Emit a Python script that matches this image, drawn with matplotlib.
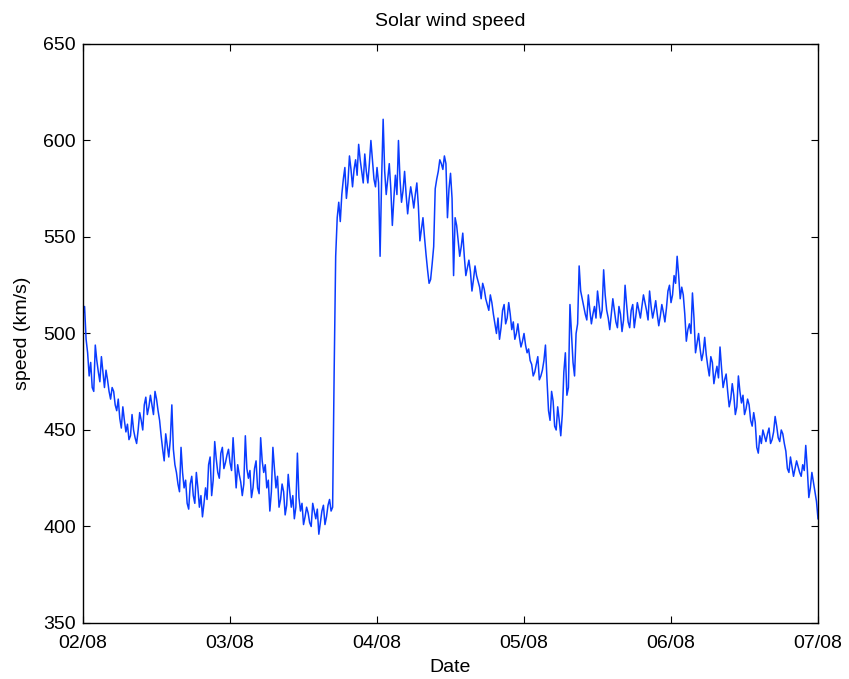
import pandas as pd
import matplotlib
matplotlib.use("Agg")
import matplotlib.pyplot as plt
import matplotlib.dates as mdates

plt.rcParams["font.family"] = ["Liberation Sans", "DejaVu Sans"]

# 15-minute samples from 02/08 00:00 to 07/08 00:00
TIMES = pd.date_range("2011-08-02", "2011-08-07", freq="15min")

SPEED = [
    510, 514, 497, 490, 478, 485, 472, 470, 494, 486, 480, 475, 488, 480, 472, 481, 476, 470, 466, 472,
    470, 463, 460, 466, 456, 451, 462, 455, 449, 453, 445, 447, 458, 450, 446, 443, 450, 459, 455, 450,
    463, 467, 458, 462, 468, 463, 458, 470, 466, 460, 455, 447, 440, 434, 448, 442, 436, 445, 463, 440,
    432, 428, 422, 418, 441, 428, 420, 424, 412, 409, 422, 426, 416, 412, 428, 420, 410, 416, 405, 412,
    420, 414, 432, 436, 416, 424, 444, 435, 428, 425, 438, 441, 430, 433, 437, 440, 433, 429, 446, 433,
    420, 432, 427, 423, 416, 422, 447, 430, 425, 429, 415, 420, 430, 434, 420, 417, 446, 434, 428, 432,
    420, 424, 408, 418, 441, 430, 420, 426, 410, 414, 422, 418, 406, 411, 427, 418, 410, 416, 404, 410,
    438, 415, 408, 412, 401, 405, 410, 407, 402, 400, 412, 408, 404, 409, 396, 402, 408, 411, 401, 405,
    411, 414, 408, 410, 480, 540, 560, 568, 558, 572, 580, 586, 570, 578, 592, 585, 576, 585, 590, 582,
    598, 590, 584, 578, 593, 584, 578, 588, 600, 590, 580, 576, 586, 578, 540, 580, 611, 584, 572, 580,
    588, 575, 556, 570, 582, 572, 600, 580, 568, 574, 584, 572, 562, 570, 576, 571, 565, 572, 578, 566,
    548, 554, 560, 550, 541, 533, 526, 528, 536, 545, 575, 580, 584, 590, 588, 585, 592, 588, 560, 575,
    583, 570, 530, 560, 556, 548, 540, 545, 552, 540, 530, 534, 538, 532, 522, 528, 535, 530, 527, 524,
    518, 526, 523, 518, 515, 512, 520, 516, 510, 505, 500, 508, 497, 503, 512, 515, 505, 508, 516, 510,
    502, 506, 497, 500, 505, 498, 493, 496, 500, 494, 490, 492, 486, 484, 478, 480, 484, 488, 476, 478,
    481, 486, 494, 476, 460, 455, 470, 465, 452, 450, 462, 455, 447, 458, 480, 490, 468, 472, 515, 500,
    485, 478, 500, 505, 535, 522, 518, 514, 510, 507, 520, 512, 505, 510, 514, 508, 522, 515, 508, 512,
    533, 520, 512, 508, 502, 510, 518, 512, 506, 503, 514, 510, 501, 507, 525, 515, 506, 503, 512, 515,
    503, 509, 516, 512, 508, 514, 520, 516, 512, 507, 522, 514, 508, 512, 517, 510, 504, 509, 515, 511,
    506, 513, 522, 525, 516, 520, 530, 526, 540, 530, 518, 524, 520, 510, 496, 502, 505, 500, 521, 508,
    490, 495, 500, 492, 486, 490, 498, 489, 483, 478, 488, 485, 474, 479, 483, 477, 493, 482, 472, 476,
    479, 470, 462, 466, 474, 468, 458, 462, 478, 470, 464, 468, 458, 461, 466, 463, 455, 452, 459, 454,
    441, 438, 447, 443, 450, 447, 444, 448, 451, 443, 445, 449, 457, 452, 446, 444, 450, 448, 443, 439,
    430, 428, 436, 431, 426, 430, 434, 431, 428, 426, 432, 429, 442, 430, 415, 420, 428, 423, 418, 413,
    404,
]

Y_TICKS = [350, 400, 450, 500, 550, 600, 650]


def main():
    fig = plt.figure(figsize=(8.49, 6.79), dpi=100)
    ax = fig.add_axes([0.0978, 0.0825, 0.8657, 0.8527])

    ax.plot(TIMES, SPEED, color="#0a3cff", linewidth=1.1)

    ax.set_xlim(TIMES[0], TIMES[-1])
    ax.set_ylim(350, 650)
    ax.set_yticks(Y_TICKS)
    ax.xaxis.set_major_locator(mdates.DayLocator())
    ax.xaxis.set_major_formatter(mdates.DateFormatter("%d/%m"))

    ax.tick_params(direction="in", length=5, width=0.8, top=True, right=True,
                   labelsize=14)
    ax.tick_params(axis="x", pad=9)
    ax.tick_params(axis="y", pad=5)
    for spine in ax.spines.values():
        spine.set_linewidth(1.0)

    ax.set_title("Solar wind speed", fontsize=14, pad=13)
    ax.set_xlabel("Date", fontsize=14, labelpad=5)
    ax.set_ylabel("speed (km/s)", fontsize=14, labelpad=9)

    fig.savefig("out.png", dpi=100)
    plt.close(fig)


if __name__ == "__main__":
    main()
